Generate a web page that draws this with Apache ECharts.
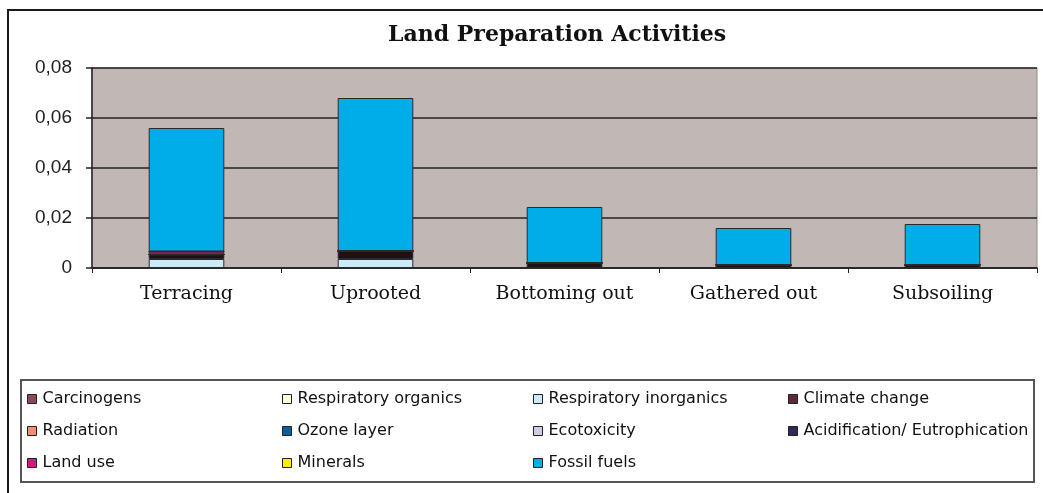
<!DOCTYPE html>
<html>
<head>
<meta charset="utf-8">
<script src="https://cdn.jsdelivr.net/npm/echarts@6/dist/echarts.min.js"></script>
<style>
  html, body { margin: 0; padding: 0; background: #fff; }
  #main { width: 1043px; height: 493px; }
</style>
</head>
<body>
<div id="main"></div>
<script>
// categories (activities)
var categories = ['Terracing', 'Uprooted', 'Bottoming out', 'Gathered out', 'Subsoiling'];

// impact categories, one array per stacked series (bottom to top)
var carcinogens     = [0, 0, 0, 0, 0];
var respOrganics    = [0, 0, 0, 0, 0];
var respInorganics  = [0.0036, 0.0036, 0, 0, 0];
var climateChange   = [0.0018, 0.0032, 0.0020, 0.0012, 0.0012];
var radiation       = [0, 0, 0, 0, 0];
var ozoneLayer      = [0, 0, 0, 0, 0];
var ecotoxicity     = [0, 0, 0, 0, 0];
var acidification   = [0, 0, 0, 0, 0];
var landUse         = [0.0012, 0, 0, 0, 0];
var minerals        = [0, 0, 0, 0, 0];
var fossilFuels     = [0.0494, 0.0612, 0.0224, 0.0148, 0.0164];

var yTicks = [0, 0.02, 0.04, 0.06, 0.08];

var seriesDefs = [
  { name: 'Carcinogens',                data: carcinogens,    color: '#8c4b52' },
  { name: 'Respiratory organics',       data: respOrganics,   color: '#fffde2' },
  { name: 'Respiratory inorganics',     data: respInorganics, color: '#cdeaf8' },
  { name: 'Climate change',             data: climateChange,  color: '#1c1214' },
  { name: 'Radiation',                  data: radiation,      color: '#f1906f' },
  { name: 'Ozone layer',                data: ozoneLayer,     color: '#0b5f9e' },
  { name: 'Ecotoxicity',                data: ecotoxicity,    color: '#cfcde6' },
  { name: 'Acidification/ Eutrophication', data: acidification, color: '#2e2b56' },
  { name: 'Land use',                   data: landUse,        color: '#d8177d' },
  { name: 'Minerals',                   data: minerals,       color: '#ffec00' },
  { name: 'Fossil fuels',               data: fossilFuels,    color: '#00ade9' }
];

// legend columns as laid out in the original
var legendCols = [
  { left: 27,  names: ['Carcinogens', 'Radiation', 'Land use'] },
  { left: 282, names: ['Respiratory organics', 'Ozone layer', 'Minerals'] },
  { left: 533, names: ['Respiratory inorganics', 'Ecotoxicity', 'Fossil fuels'] },
  { left: 788, names: ['Climate change', 'Acidification/ Eutrophication'] }
];

var legendColor = {};
seriesDefs.forEach(function (s) { legendColor[s.name] = s.color; });
legendColor['Climate change'] = '#5a2a3e';

var myChart = echarts.init(document.getElementById('main'));

var legends = legendCols.map(function (col) {
  return {
    orient: 'vertical',
    left: col.left,
    top: 390,
    padding: 0,
    itemWidth: 9,
    itemHeight: 9,
    itemGap: 14,
    icon: 'rect',
    selectedMode: false,
    data: col.names.map(function (n) {
      return { name: n, itemStyle: { color: legendColor[n], borderColor: '#222', borderWidth: 1 } };
    }),
    textStyle: { fontFamily: 'DejaVu Sans', fontSize: 16, color: '#111', lineHeight: 18, padding: [0, 0, 0, 1] }
  };
});

var option = {
  animation: false,
  backgroundColor: '#fff',
  title: {
    text: 'Land Preparation Activities',
    left: 383,
    top: 19,
    textStyle: { fontFamily: 'DejaVu Serif', fontWeight: 'bold', fontSize: 22, color: '#111' }
  },
  legend: legends,
  graphic: [
    {
      type: 'rect', silent: true, z: -10,
      shape: { x: 8, y: 10, width: 1100, height: 600 },
      style: { fill: 'none', stroke: '#1a1a1a', lineWidth: 2 }
    },
    {
      type: 'rect', silent: true, z: -10,
      shape: { x: 21, y: 380, width: 1013, height: 102 },
      style: { fill: 'none', stroke: '#555', lineWidth: 2 }
    }
  ],
  grid: {
    left: 92,
    right: 6,
    top: 68,
    bottom: 225,
    show: true,
    backgroundColor: '#c1b8b6',
    borderColor: '#8f8a88',
    borderWidth: 1
  },
  xAxis: {
    type: 'category',
    data: categories,
    axisLine: { lineStyle: { color: '#222', width: 1.5 } },
    axisTick: { show: true, inside: false, length: 5, lineStyle: { color: '#222' } },
    axisLabel: { fontFamily: 'DejaVu Serif', fontSize: 19, color: '#111', margin: 17 }
  },
  yAxis: {
    type: 'value',
    min: yTicks[0],
    max: yTicks[yTicks.length - 1],
    interval: 0.02,
    axisLine: { show: true, lineStyle: { color: '#222', width: 1.5 } },
    axisTick: { show: true, inside: false, length: 6, lineStyle: { color: '#222', width: 1.5 } },
    splitLine: { show: true, lineStyle: { color: '#222', width: 1.5 } },
    axisLabel: {
      fontFamily: 'Liberation Sans', fontSize: 19, color: '#222', margin: 20,
      formatter: function (v) { return v === 0 ? '0' : v.toFixed(2).replace('.', ','); }
    }
  },
  series: seriesDefs.map(function (s) {
    return {
      name: s.name,
      type: 'bar',
      stack: 'total',
      barWidth: '40%',
      data: s.data,
      itemStyle: { color: s.color, borderColor: '#2a2a2a', borderWidth: 1 }
    };
  })
};

myChart.setOption(option);
</script>
</body>
</html>
